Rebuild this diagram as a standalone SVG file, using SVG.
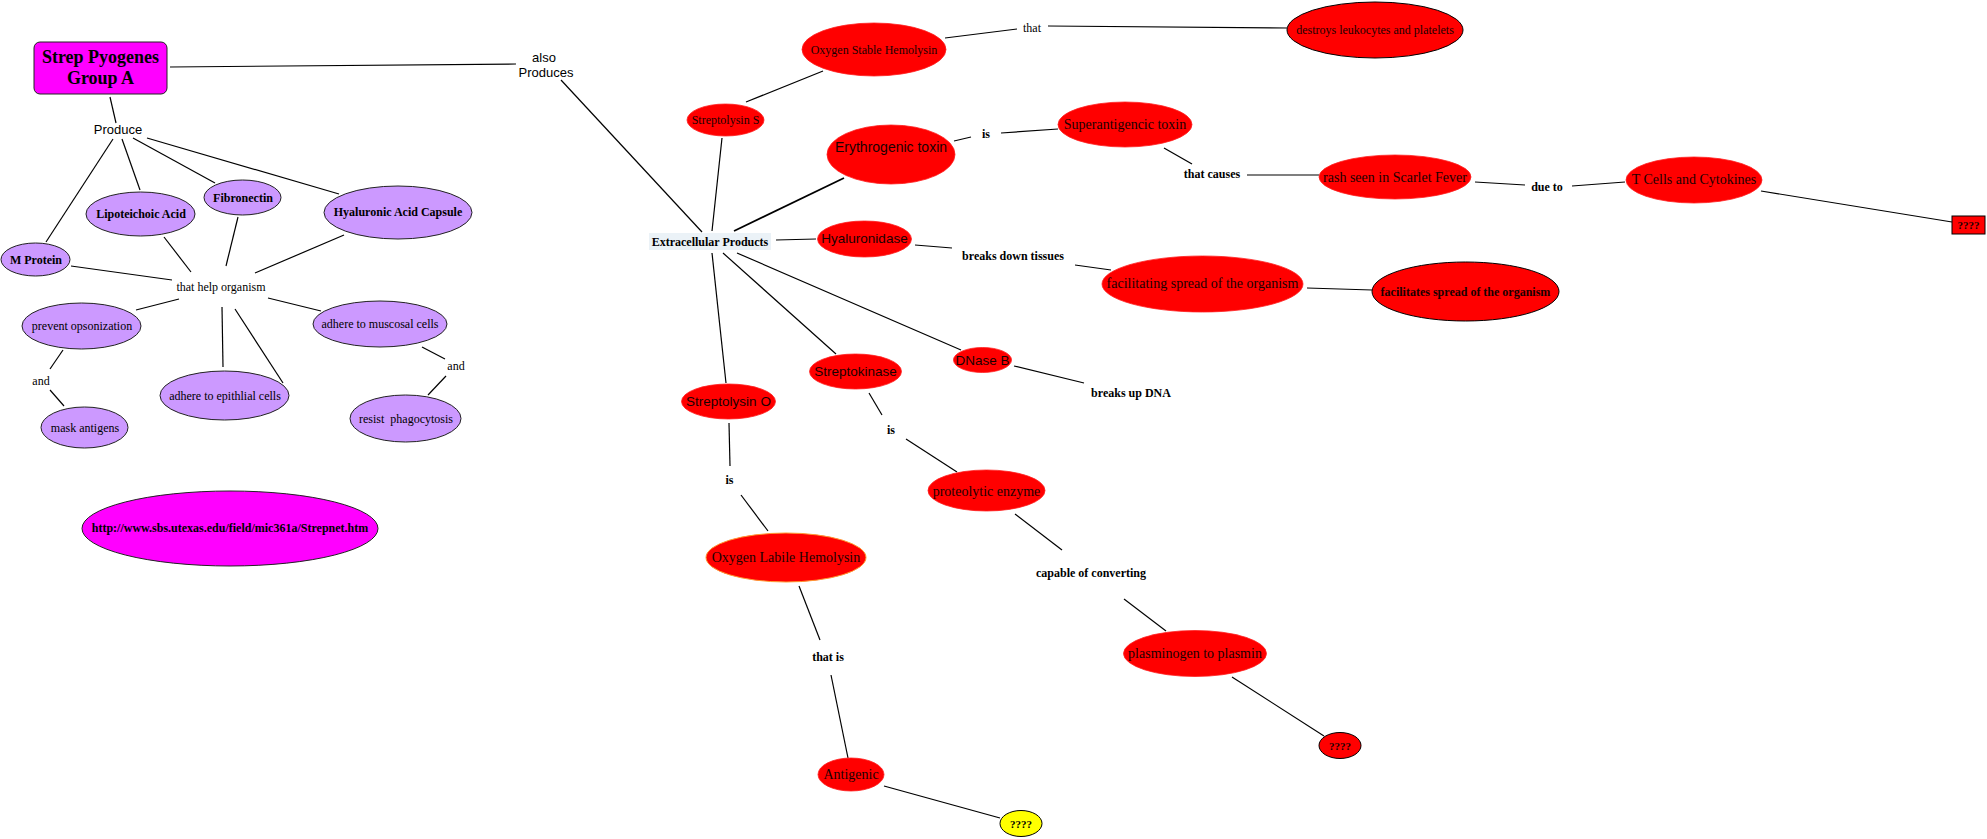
<svg xmlns="http://www.w3.org/2000/svg" width="1987" height="839" viewBox="0 0 1987 839">
<style>
text{font-family:"Liberation Serif","Times New Roman",serif;font-size:12px;text-anchor:middle;dominant-baseline:central;fill:#000}
.b{font-weight:bold}
.sans{font-family:"Liberation Sans",Arial,sans-serif}
.rt{fill:#1a0000}
.purple{fill:#CC99FF;stroke:#222;stroke-width:1}
.red{fill:#FF0000;stroke:#FF2020;stroke-width:0.8}
.reds{fill:#FF0000;stroke:#000;stroke-width:1}
#connectors line{stroke:#000;stroke-width:1.2}
</style>
<rect width="1987" height="839" fill="#fff"/>
<g id="connectors">
<line x1="170" y1="67" x2="516" y2="64"/>
<line x1="561" y1="80" x2="702" y2="232"/>
<line x1="110" y1="97" x2="116" y2="123"/>
<line x1="113" y1="139" x2="46" y2="242"/>
<line x1="122" y1="139" x2="140" y2="190"/>
<line x1="133" y1="138" x2="215" y2="183"/>
<line x1="147" y1="138" x2="339" y2="194"/>
<line x1="71" y1="266" x2="172" y2="280"/>
<line x1="164" y1="237" x2="191" y2="272"/>
<line x1="238" y1="217" x2="226" y2="266"/>
<line x1="344" y1="235" x2="255" y2="273"/>
<line x1="179" y1="299" x2="136" y2="310"/>
<line x1="63" y1="350" x2="50" y2="369"/>
<line x1="50" y1="390" x2="64" y2="406"/>
<line x1="222" y1="307" x2="223" y2="367"/>
<line x1="235" y1="309" x2="283" y2="383"/>
<line x1="268" y1="298" x2="321" y2="311"/>
<line x1="422" y1="347" x2="445" y2="359"/>
<line x1="446" y1="376" x2="428" y2="395"/>
<line x1="746" y1="102" x2="823" y2="71"/>
<line x1="945" y1="38" x2="1017" y2="29"/>
<line x1="1048" y1="26" x2="1287" y2="28"/>
<line x1="712" y1="231" x2="722" y2="138"/>
<line x1="734" y1="231" x2="844" y2="178" style="stroke-width:1.8"/>
<line x1="954" y1="141" x2="971" y2="137"/>
<line x1="1001" y1="133" x2="1058" y2="129"/>
<line x1="1164" y1="148" x2="1192" y2="164"/>
<line x1="1247" y1="175" x2="1319" y2="175"/>
<line x1="1475" y1="182" x2="1525" y2="185"/>
<line x1="1572" y1="186" x2="1625" y2="182"/>
<line x1="1761" y1="191" x2="1952" y2="222"/>
<line x1="776" y1="240" x2="816" y2="239"/>
<line x1="915" y1="245" x2="952" y2="248"/>
<line x1="1075" y1="265" x2="1111" y2="270"/>
<line x1="1307" y1="288" x2="1372" y2="290"/>
<line x1="712" y1="253" x2="726" y2="383"/>
<line x1="723" y1="253" x2="836" y2="354"/>
<line x1="737" y1="253" x2="961" y2="350"/>
<line x1="1014" y1="366" x2="1084" y2="383"/>
<line x1="729" y1="423" x2="730" y2="466"/>
<line x1="741" y1="495" x2="768" y2="531"/>
<line x1="869" y1="393" x2="882" y2="415"/>
<line x1="906" y1="439" x2="957" y2="472"/>
<line x1="1015" y1="514" x2="1062" y2="550"/>
<line x1="799" y1="586" x2="820" y2="640"/>
<line x1="831" y1="675" x2="848" y2="758"/>
<line x1="884" y1="786" x2="1000" y2="818"/>
<line x1="1124" y1="599" x2="1166" y2="631"/>
<line x1="1232" y1="677" x2="1324" y2="736"/>
</g>
<g id="strep"><rect x="34" y="42" width="133" height="52" rx="6" fill="#FF00FF" stroke="#222" stroke-width="1"/><text class="b" x="100.5" y="57" style="font-size:18px">Strep Pyogenes</text><text class="b" x="100.5" y="78" style="font-size:18px">Group A</text></g>
<g id="also-produces"><text class="sans" x="544" y="57" style="font-size:13px">also</text><text class="sans" x="546" y="72" style="font-size:13px">Produces</text></g>
<g id="produce"><text class="sans" x="118" y="129" style="font-size:13px">Produce</text></g>
<g id="m-protein"><ellipse class="purple" cx="35.5" cy="259.5" rx="34.5" ry="16.5"/><text class="b" x="36" y="260">M Protein</text></g>
<g id="lipoteichoic"><ellipse class="purple" cx="140.5" cy="214" rx="54.5" ry="22"/><text class="b" x="141" y="214">Lipoteichoic Acid</text></g>
<g id="fibronectin"><ellipse class="purple" cx="242.5" cy="197.5" rx="38.5" ry="17.5"/><text class="b" x="243" y="198">Fibronectin</text></g>
<g id="hyaluronic-capsule"><ellipse class="purple" cx="398" cy="212.5" rx="74" ry="26.5"/><text class="b" x="398" y="212">Hyaluronic Acid Capsule</text></g>
<g id="that-help"><text x="221" y="287">that help organism</text></g>
<g id="prevent"><ellipse class="purple" cx="81.5" cy="326" rx="59.5" ry="23"/><text x="82" y="326">prevent opsonization</text></g>
<g id="and1"><text x="41" y="381">and</text></g>
<g id="mask"><ellipse class="purple" cx="84.5" cy="427.5" rx="43.5" ry="20.5"/><text x="85" y="428">mask antigens</text></g>
<g id="epithelial"><ellipse class="purple" cx="224.5" cy="395.5" rx="64.5" ry="24.5"/><text x="225" y="396">adhere to epithlial cells</text></g>
<g id="mucosal"><ellipse class="purple" cx="380" cy="324" rx="67" ry="23"/><text x="380" y="324">adhere to muscosal cells</text></g>
<g id="and2"><text x="456" y="366">and</text></g>
<g id="resist"><ellipse class="purple" cx="405.5" cy="418.5" rx="55.5" ry="23.5"/><text x="406" y="419" xml:space="preserve">resist  phagocytosis</text></g>
<g id="url"><ellipse cx="230" cy="528.5" rx="148" ry="37.5" fill="#FF00FF" stroke="#222" stroke-width="1"/><text class="b" x="230" y="528">http://www.sbs.utexas.edu/field/mic361a/Strepnet.htm</text></g>
<g id="extracellular"><rect x="649" y="233" width="122" height="17" fill="#EBF2F7"/><text class="b" x="710" y="242">Extracellular Products</text></g>
<g id="streptolysin-s"><ellipse class="red" cx="725.5" cy="120" rx="38.5" ry="16"/><text class="rt" x="725.5" y="120">Streptolysin S</text></g>
<g id="oxygen-stable"><ellipse class="red" cx="874" cy="49.5" rx="72" ry="26.5"/><text class="rt" x="874" y="50">Oxygen Stable Hemolysin</text></g>
<g id="that1"><text x="1032" y="28">that</text></g>
<g id="destroys"><ellipse class="reds" cx="1375" cy="30" rx="88" ry="28"/><text class="rt" x="1375" y="30">destroys leukocytes and platelets</text></g>
<g id="erythrogenic"><ellipse class="red" cx="891" cy="154.5" rx="64" ry="29.5"/><text class="sans rt" x="891" y="147" style="font-size:14px">Erythrogenic toxin</text></g>
<g id="is1"><text class="b" x="986" y="134">is</text></g>
<g id="superantigen"><ellipse class="red" cx="1125" cy="124.5" rx="67" ry="22.5"/><text class="rt" x="1125" y="124" style="font-size:14px">Superantigencic toxin</text></g>
<g id="that-causes"><text class="b" x="1212" y="174">that causes</text></g>
<g id="rash"><ellipse class="red" cx="1395" cy="177" rx="76" ry="22"/><text class="rt" x="1395" y="177" style="font-size:14px">rash seen in Scarlet Fever</text></g>
<g id="due-to"><text class="b" x="1547" y="187">due to</text></g>
<g id="tcells"><ellipse class="red" cx="1694" cy="180" rx="68" ry="23"/><text class="rt" x="1694" y="179" style="font-size:14px">T Cells and Cytokines</text></g>
<g id="q1"><rect x="1952" y="216" width="33" height="18" fill="#FF0000" stroke="#000" stroke-width="1"/><text class="b rt" x="1968.5" y="225" style="font-size:11px">????</text></g>
<g id="hyaluronidase"><ellipse class="red" cx="864.5" cy="239" rx="47" ry="18"/><text class="sans rt" x="864.5" y="238" style="font-size:13.5px">Hyaluronidase</text></g>
<g id="breaks-tissues"><text class="b" x="1013" y="256">breaks down tissues</text></g>
<g id="facilitating"><ellipse class="red" cx="1202.5" cy="284" rx="100.5" ry="28"/><text class="rt" x="1202.5" y="283" style="font-size:14px">facilitating spread of the organism</text></g>
<g id="facilitates"><ellipse class="reds" cx="1465.5" cy="291.5" rx="93.5" ry="29.5"/><text class="b rt" x="1465.5" y="292">facilitates spread of the organism</text></g>
<g id="dnase"><ellipse class="red" cx="982.5" cy="360" rx="29" ry="12.5"/><text class="sans rt" x="982.5" y="360" style="font-size:13.5px">DNase B</text></g>
<g id="breaks-dna"><text class="b" x="1131" y="393">breaks up DNA</text></g>
<g id="streptokinase"><ellipse class="red" cx="855.5" cy="371.5" rx="46" ry="17.5"/><text class="sans rt" x="855.5" y="371" style="font-size:13.5px">Streptokinase</text></g>
<g id="is3"><text class="b" x="891" y="430">is</text></g>
<g id="proteolytic"><ellipse class="red" cx="986.5" cy="490.5" rx="58.5" ry="20.5"/><text class="rt" x="986.5" y="491" style="font-size:14px">proteolytic enzyme</text></g>
<g id="capable"><text class="b" x="1091" y="573">capable of converting</text></g>
<g id="plasminogen"><ellipse class="red" cx="1195" cy="653.5" rx="71.5" ry="23"/><text class="rt" x="1195" y="653" style="font-size:14px">plasminogen to plasmin</text></g>
<g id="q2"><ellipse class="reds" cx="1340" cy="745.5" rx="21" ry="13"/><text class="b rt" x="1340" y="746" style="font-size:11px">????</text></g>
<g id="streptolysin-o"><ellipse class="red" cx="728.5" cy="401.5" rx="47" ry="17.5"/><text class="sans rt" x="728.5" y="401" style="font-size:13.5px">Streptolysin O</text></g>
<g id="is2"><text class="b" x="729.5" y="480">is</text></g>
<g id="oxygen-labile"><ellipse cx="786" cy="557.5" rx="80" ry="24.5" fill="#FF0000" stroke="#FF9933" stroke-width="1"/><text class="rt" x="786" y="557" style="font-size:14px">Oxygen Labile Hemolysin</text></g>
<g id="that-is"><text class="b" x="828" y="657">that is</text></g>
<g id="antigenic"><ellipse class="red" cx="851" cy="774.5" rx="33" ry="16.5"/><text class="rt" x="851" y="774" style="font-size:14px">Antigenic</text></g>
<g id="q3"><ellipse cx="1021" cy="823.5" rx="21" ry="13" fill="#FFFF00" stroke="#000" stroke-width="1"/><text class="b" x="1021" y="824" style="font-size:11px">????</text></g>
</svg>
